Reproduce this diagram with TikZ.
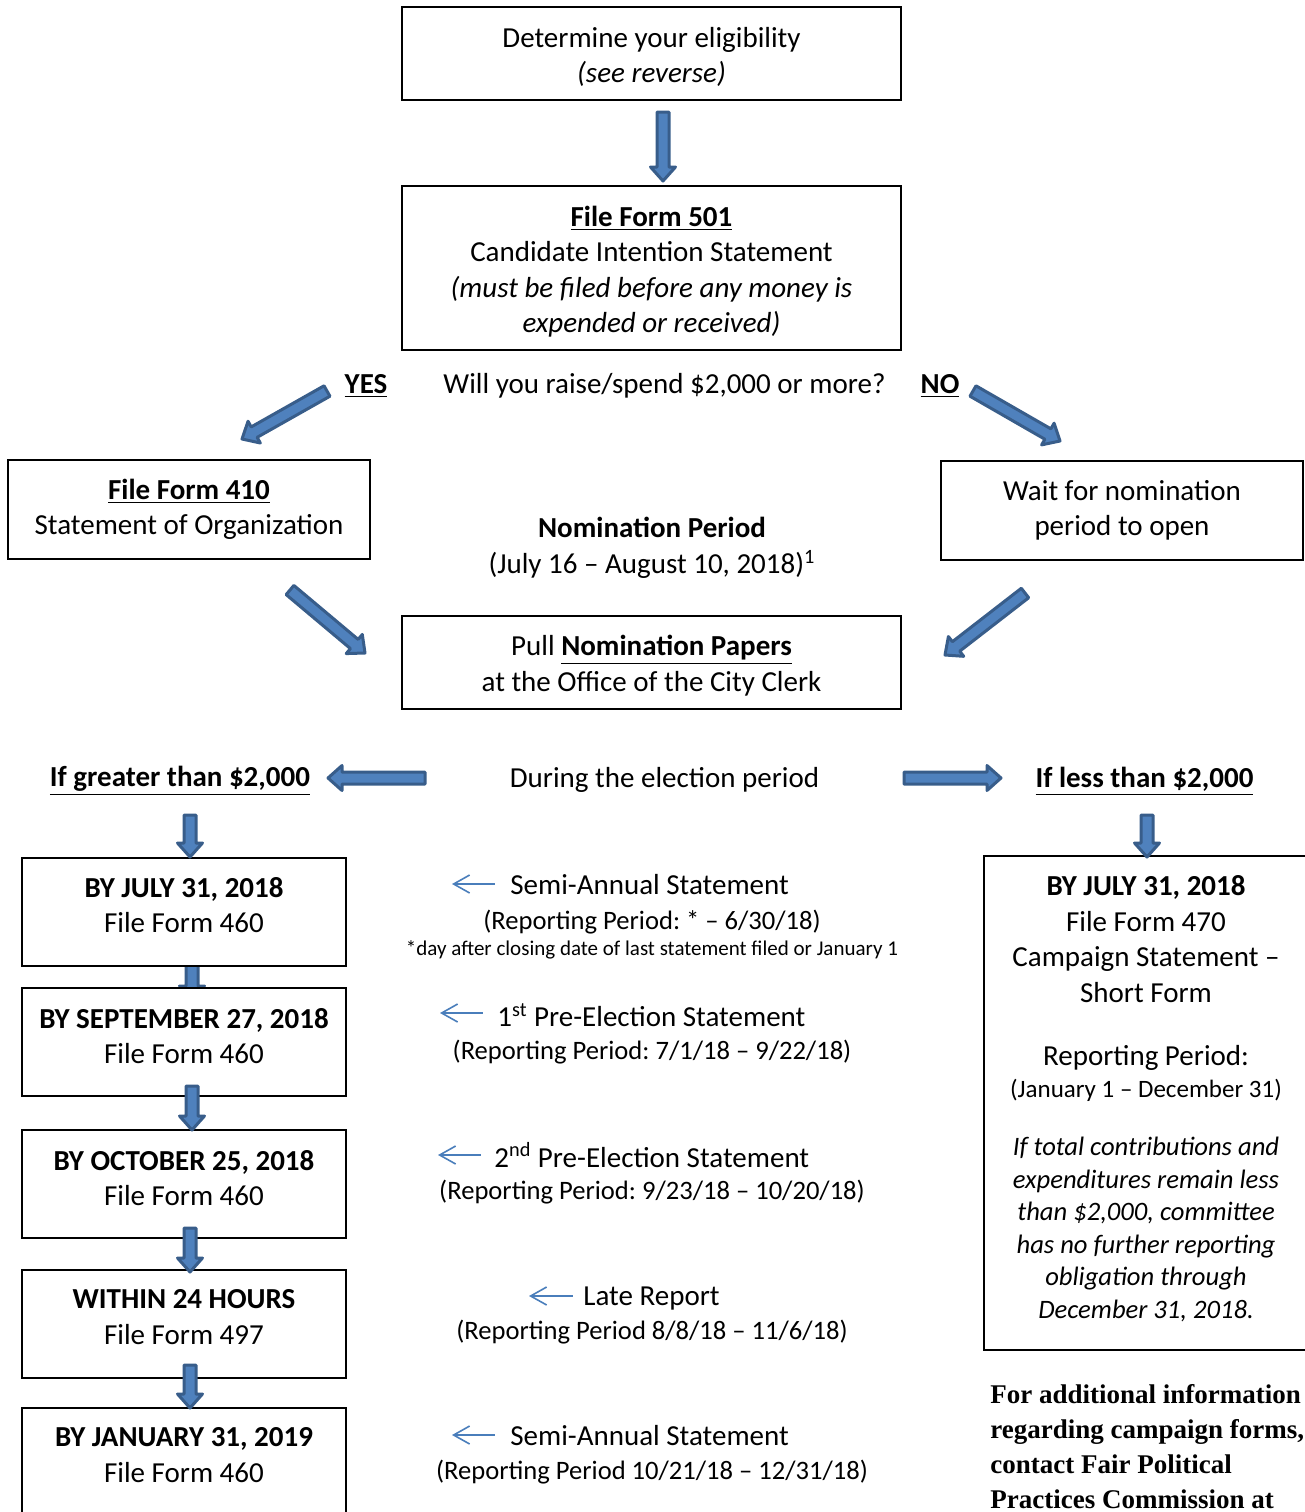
\documentclass[tikz,border=0pt]{standalone}
\usepackage{fontspec}
\setmainfont{Carlito}
\newfontfamily\notefont{Liberation Serif}
\usetikzlibrary{calc,arrows.meta,positioning}
\frenchspacing

\definecolor{arrowfill}{RGB}{79,129,189}
\definecolor{arrowline}{RGB}{56,93,138}
\definecolor{thinblue}{RGB}{74,126,187}

\newcommand{\mainsize}{\fontsize{14.5}{17.75}\selectfont}
\newcommand{\periodsize}{\fontsize{13.3}{16}\selectfont}
\newcommand{\notesize}{\fontsize{10.5}{12}\selectfont}
\newcommand{\italsize}{\fontsize{13.3}{16.3}\selectfont}

% fat blue arrow from #1 to #2
\newcommand{\blockarrow}[2]{%
  \coordinate (ba-s) at (#1);
  \coordinate (ba-e) at (#2);
  \coordinate (ba-h) at ($(ba-e)!7pt!(ba-s)$);
  \filldraw[blk] ($(ba-s)!3pt!90:(ba-e)$) -- ($(ba-h)!3pt!-90:(ba-s)$)
    -- ($(ba-h)!6.25pt!-90:(ba-s)$) -- (ba-e) -- ($(ba-h)!6.25pt!90:(ba-s)$)
    -- ($(ba-h)!3pt!90:(ba-s)$) -- ($(ba-s)!3pt!-90:(ba-e)$) -- cycle;}

\begin{document}
\begin{tikzpicture}[x=0.5pt,y=-0.5pt,
  box/.style={draw,line width=1pt,fill=white,inner sep=0pt},
  widebox/.style={box,minimum width=249.5pt},
  sidebox/.style={box,minimum width=181pt,minimum height=49.5pt,align=center,font=\mainsize},
  datebox/.style={box,minimum width=162pt,minimum height=54pt},
  txt/.style={align=center,inner sep=0pt,font=\mainsize},
  period/.style={align=center,inner sep=0pt,font=\periodsize},
  blk/.style={fill=arrowfill,draw=arrowline,line width=1.5pt,line join=round},
  thinarrow/.style={draw=thinblue,line width=0.8pt,{Straight Barb[length=8pt,width=9pt]}-}]
\useasboundingbox (0,0) rectangle (1305,1512);
\clip (0,0) rectangle (1305,1512);

% arrow ends
\coordinate (a1s) at (663,112);   \coordinate (a1e) at (663,181);
\coordinate (yess) at (327,391);  \coordinate (yese) at (242,439);
\coordinate (nos) at (973,391);   \coordinate (noe) at (1060,441);
\coordinate (l410s) at (290,590); \coordinate (l410e) at (365,653);
\coordinate (waits) at (1025,593);\coordinate (waite) at (945,655);
\coordinate (gts) at (425,778);   \coordinate (gte) at (328,778);
\coordinate (lts) at (904,778);   \coordinate (lte) at (1001,778);
\coordinate (dls) at (190,815);   \coordinate (dle) at (190,857);
\coordinate (drs) at (1147,815);  \coordinate (dre) at (1147,857);
\coordinate (b12s) at (192,945);  \coordinate (b12e) at (192,1000);
\coordinate (b23s) at (192,1086); \coordinate (b23e) at (192,1130);
\coordinate (b34s) at (190,1228); \coordinate (b34e) at (190,1272);
\coordinate (b45s) at (190,1365); \coordinate (b45e) at (190,1408);

% hidden behind the boxes
\blockarrow{b12s}{b12e}

% top part
\node[widebox,minimum height=46.5pt] (elig) at (651.5,53.5) {};
\node[txt] (eligt) at (651.5,57)
  {Determine your eligibility\\\textit{(see reverse)}};
\node[widebox,minimum height=82pt] (f501) at (651.5,268) {};
\node[txt] (f501t) at (651.5,271.5)
  {\textbf{\underline{File Form 501}}\\Candidate Intention Statement\\
   \textit{(must be filed before any money is}\\\textit{expended or received)}};
\node[txt] (yes) at (366,386) {\textbf{\underline{YES}}};
\node[txt] (quest) at (664.5,386) {Will you raise/spend \$2,000 or more?};
\node[txt] (no) at (940,386) {\textbf{\underline{NO}}};
\node[sidebox] (f410) at (189,509.5)
  {\textbf{\underline{File Form 410}}\\Statement of Organization};
\node[sidebox] (wait) at (1122,510.5) {Wait for nomination\\period to open};
\node[txt] (nomp) at (652,548)
  {\textbf{Nomination Period}\\(July 16 – August 10, 2018)\textsuperscript{1}};
\node[widebox,minimum height=46.5pt] (pull) at (651.5,662.5) {};
\node[txt] (pullt) at (651.5,665.5)
  {Pull \textbf{\underline{Nomination Papers}}\\at the Office of the City Clerk};

\node[txt] (gt) at (180,781) {\textbf{\underline{If greater than \$2,000}}};
\node[txt] (during) at (664.5,780) {During the election period};
\node[txt] (lt) at (1144.5,781) {\textbf{\underline{If less than \$2,000}}};

% left column
\node[datebox] (b1) at (184,912) {};
\node[datebox] (b2) at (184,1042) {};
\node[datebox] (b3) at (184,1184) {};
\node[datebox] (b4) at (184,1324) {};
\node[datebox] (b5) at (184,1462) {};
\node[txt] (b1t) at (184,905) {\textbf{BY JULY 31, 2018}\\File Form 460};
\node[txt] (b2t) at (184,1036) {\textbf{BY SEPTEMBER 27, 2018}\\File Form 460};
\node[txt] (b3t) at (184,1178) {\textbf{BY OCTOBER 25, 2018}\\File Form 460};
\node[txt] (b4t) at (184,1317) {\textbf{WITHIN 24 HOURS}\\File Form 497};
\node[txt] (b5t) at (184,1455) {\textbf{BY JANUARY 31, 2019}\\File Form 460};

% right column
\node[box,minimum width=162pt,minimum height=247pt] (f470) at (1146,1103) {};
\node[txt] (f470t) at (1146,939)
  {\textbf{BY JULY 31, 2018}\\File Form 470\\Campaign Statement –\\Short Form};
\node[txt] (rperiod) at (1146,1058) {Reporting Period:};
\node[txt,font=\fontsize{12.5}{15}\selectfont] (rdates) at (1146,1090)
  {(January 1 – December 31)};
\node[txt,font=\italsize\itshape] (rnote) at (1146,1229.5)
  {If total contributions and\\expenditures remain less\\than \$2,000, committee\\
   has no further reporting\\obligation through\\December 31, 2018.};
\node[align=left,inner sep=0pt,anchor=north west,
  font=\notefont\bfseries\fontsize{13.5}{17.5}\selectfont] (fppc) at (990,1384)
  {For additional information\\regarding campaign forms,\\contact Fair Political\\
   Practices Commission at};

% middle statements
\node[txt,anchor=west] (s1) at (510,885) {Semi-Annual Statement};
\node[period] (s1p) at (652,922) {(Reporting Period: * – 6/30/18)};
\node[inner sep=0pt,font=\notesize] (s1n) at (652,950)
  {*day after closing date of last statement filed or January 1};
\node[txt,anchor=west] (s2) at (497,1015) {1\textsuperscript{st} Pre-Election Statement};
\node[period] (s2p) at (652,1052) {(Reporting Period: 7/1/18 – 9/22/18)};
\node[txt,anchor=west] (s3) at (494,1155) {2\textsuperscript{nd} Pre-Election Statement};
\node[period] (s3p) at (652,1192) {(Reporting Period: 9/23/18 – 10/20/18)};
\node[txt,anchor=west] (s4) at (583,1299) {Late Report};
\node[period] (s4p) at (652,1332) {(Reporting Period 8/8/18 – 11/6/18)};
\node[txt,anchor=west] (s5) at (510,1436) {Semi-Annual Statement};
\node[period] (s5p) at (652,1472) {(Reporting Period 10/21/18 – 12/31/18)};

\coordinate (s1tip) at (452,884);
\coordinate (s2tip) at (440,1013);
\coordinate (s3tip) at (438,1155);
\coordinate (s4tip) at (529,1296);
\coordinate (s5tip) at (452,1435);
\draw[thinarrow] (s1tip) -- ([xshift=-7.5pt]s1tip -| s1.west);
\draw[thinarrow] (s2tip) -- ([xshift=-7pt]s2tip -| s2.west);
\draw[thinarrow] (s3tip) -- ([xshift=-6.5pt]s3tip -| s3.west);
\draw[thinarrow] (s4tip) -- ([xshift=-5pt]s4tip -| s4.west);
\draw[thinarrow] (s5tip) -- ([xshift=-7.5pt]s5tip -| s5.west);

% fat arrows
\blockarrow{a1s}{a1e}
\blockarrow{yess}{yese}
\blockarrow{nos}{noe}
\blockarrow{l410s}{l410e}
\blockarrow{waits}{waite}
\blockarrow{gts}{gte}
\blockarrow{lts}{lte}
\blockarrow{dls}{dle}
\blockarrow{drs}{dre}
\blockarrow{b23s}{b23e}
\blockarrow{b34s}{b34e}
\blockarrow{b45s}{b45e}
\end{tikzpicture}
\end{document}
